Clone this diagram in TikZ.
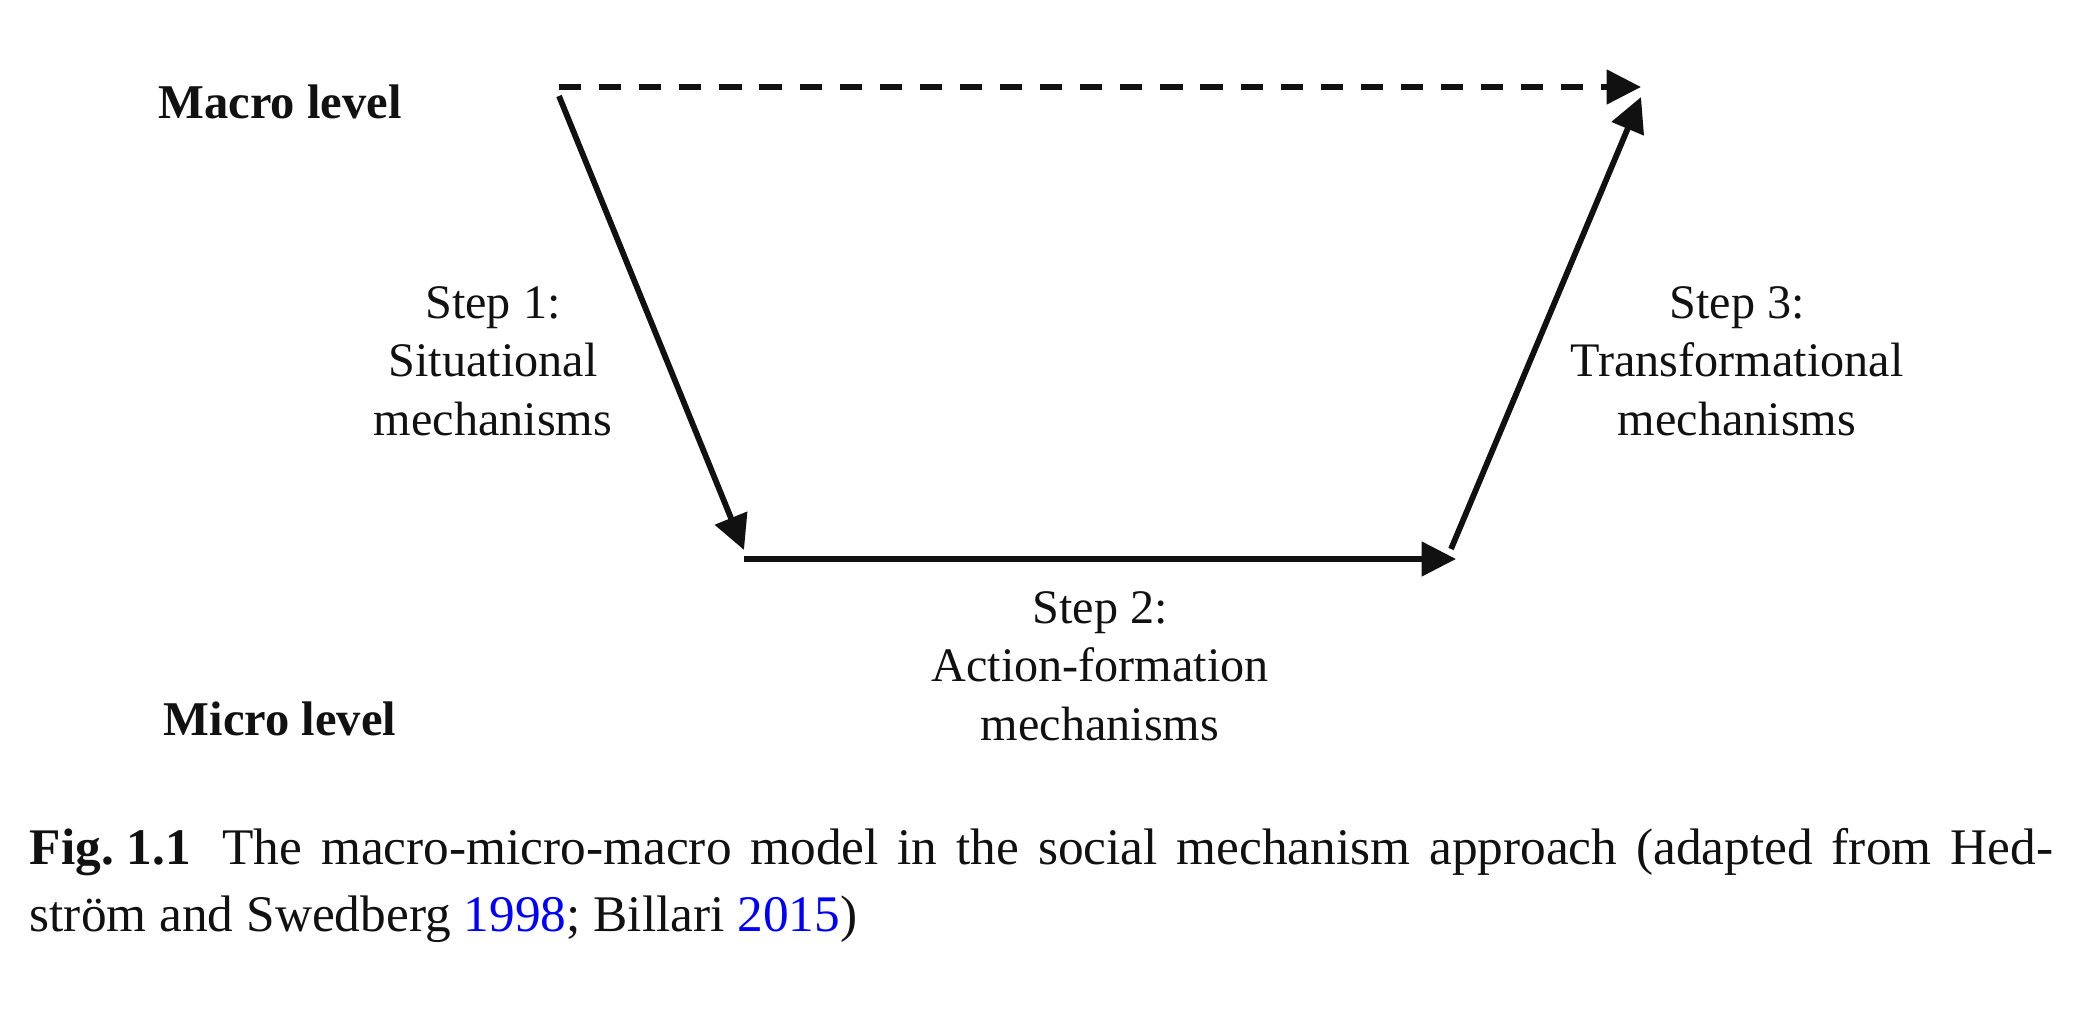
\documentclass[tikz,border=0pt]{standalone}
\usepackage{fontspec}
\setmainfont{Liberation Serif}
\usetikzlibrary{arrows.meta,positioning,calc}
\definecolor{ink}{RGB}{17,17,17}
\definecolor{citeblue}{RGB}{0,0,255}
\tikzset{
  lvl/.style={font=\fontsize{13.8}{16.5}\selectfont\bfseries,text=ink,inner sep=0pt,anchor=base},
  lbl/.style={font=\fontsize{13.7}{16.5}\selectfont,text=ink,align=center,inner sep=0pt,anchor=base},
  arr/.style={-{Triangle[length=9.8pt,width=9.6pt]},line width=1.65pt,draw=ink},
  dasharr/.style={arr,dash pattern=on 6.3pt off 5.1pt},
  capt/.style={font=\fontsize{14.6}{19.3}\selectfont,text=ink,text width=20.22cm,
    align=justify,inner sep=0pt,anchor=base west},
}
\newcommand{\yr}[1]{\textcolor{citeblue}{#1}}

\begin{document}
\begin{tikzpicture}[x=0.01cm,y=-0.01cm]
  \useasboundingbox (0,0) rectangle (2088,1012);
  % corners of the macro-micro-macro trapezoid
  \coordinate (macroA) at (559,87);
  \coordinate (macroB) at (1641,87);
  \coordinate (microA) at (744,559);
  \coordinate (microB) at (1456,559);
  \draw[dasharr] (macroA) -- (macroB);
  \draw[arr] ($(macroA)+(0,9)$) -- ($(microA)+(0,-9)$);
  \draw[arr] (microA) -- (microB);
  \draw[arr] ($(microB)+(-5,-10)$) -- ($(macroB)+(0,10)$);
  % levels and steps (anchored on the last line)
  \node[lvl] (macro) at (280,118) {Macro level};
  \node[lvl] (micro) at (280,735) {Micro level};
  \node[lbl] (step1) at (493,435) {Step 1:\\ Situational\\ mechanisms};
  \node[lbl] (step2) at (1100,740) {Step 2:\\ Action-formation\\ mechanisms};
  \node[lbl] (step3) at (1737,435) {Step 3:\\ Transformational\\ mechanisms};
  % caption
  \node[capt] (cap) at (29,864) {\textbf{\mbox{Fig.\ 1.1}}\hskip 9pt The macro-micro-macro model in
    the social mechanism approach (adapted from Hed-\linebreak str\"om and Swedberg
    \yr{1998}; Billari \yr{2015})};
\end{tikzpicture}
\end{document}
